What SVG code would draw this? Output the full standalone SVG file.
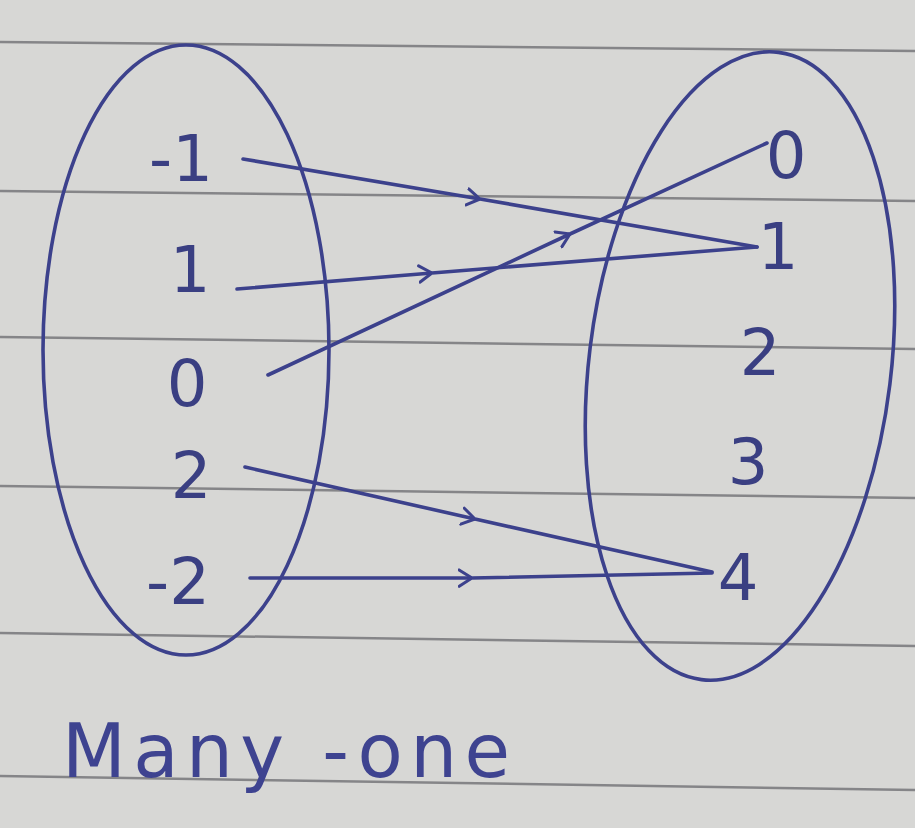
<svg xmlns="http://www.w3.org/2000/svg" width="915" height="828" viewBox="0 0 915 828">
<defs>
<style>
.paper{fill:#d7d7d5}
.rule{stroke:#858588;stroke-width:2.5;fill:none}
.ink{stroke:#3c418c;stroke-width:3.6;fill:none;stroke-linecap:round;stroke-linejoin:round}
.lbl{font-family:"DejaVu Sans","Liberation Sans",sans-serif;font-size:64px;fill:#3a3f82;text-anchor:middle}
.cap{font-family:"DejaVu Sans","Liberation Sans",sans-serif;font-size:74px;fill:#3e4390}
</style>
<marker id="chev" viewBox="0 0 12 16" refX="12" refY="8" markerWidth="14" markerHeight="20" markerUnits="userSpaceOnUse" orient="auto">
<path d="M1,1 L12,8 L1,15" fill="none" stroke="#3c418c" stroke-width="2.6" stroke-linecap="round" stroke-linejoin="round"/>
</marker>
</defs>
<rect class="paper" x="0" y="0" width="915" height="828"/>
<g id="rules">
<path class="rule" d="M0,42 L915,51"/>
<path class="rule" d="M0,191 L915,201"/>
<path class="rule" d="M0,337 L915,349"/>
<path class="rule" d="M0,486 L915,498"/>
<path class="rule" d="M0,633 L915,646"/>
<path class="rule" d="M0,776 L915,790"/>
</g>
<g id="domain">
<ellipse class="ink" cx="186" cy="350" rx="143" ry="305"/>
</g>
<g id="codomain">
<ellipse class="ink" cx="740" cy="366" rx="151" ry="316" transform="rotate(7 740 366)"/>
</g>
<g id="connectors">
<path class="ink" marker-mid="url(#chev)" d="M243,159 L480,199 L757,247"/>
<path class="ink" marker-mid="url(#chev)" d="M237,289 L432,273 L757,247"/>
<path class="ink" marker-mid="url(#chev)" d="M268,375 L570,234 L767,143"/>
<path class="ink" marker-mid="url(#chev)" d="M245,467 L475,519 L712,572"/>
<path class="ink" marker-mid="url(#chev)" d="M250,578 L472,578 L712,573"/>
</g>
<g id="node-d-m1"><text class="lbl" x="181" y="181">-1</text></g>
<g id="node-d-1"><text class="lbl" x="190" y="292">1</text></g>
<g id="node-d-0"><text class="lbl" x="187" y="406">0</text></g>
<g id="node-d-2"><text class="lbl" x="191" y="498">2</text></g>
<g id="node-d-m2"><text class="lbl" x="178" y="604">-2</text></g>
<g id="node-c-0"><text class="lbl" x="786" y="178">0</text></g>
<g id="node-c-1"><text class="lbl" x="778" y="269">1</text></g>
<g id="node-c-2"><text class="lbl" x="760" y="375">2</text></g>
<g id="node-c-3"><text class="lbl" x="748" y="484">3</text></g>
<g id="node-c-4"><text class="lbl" x="738" y="600">4</text></g>
<g id="caption"><text class="cap" x="62" y="777" textLength="448" lengthAdjust="spacing">Many -one</text></g>
</svg>
